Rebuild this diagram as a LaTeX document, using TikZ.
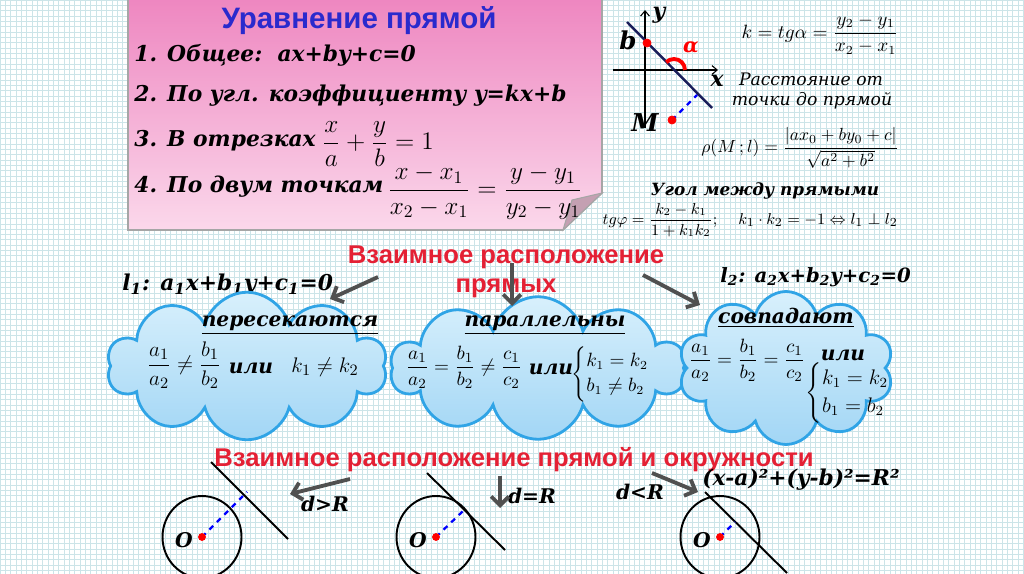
\documentclass[tikz,border=0pt]{standalone}
\usepackage{amsmath,amssymb}
\usepackage{fontspec}
\usepackage{tikz}
\usetikzlibrary{arrows.meta,shapes.symbols}
\newfontfamily\bkfont{DejaVu Serif}
\newfontfamily\hdfont{Liberation Sans}
\newcommand{\sbi}[1]{\textsubscript{#1}}

\definecolor{gridc}{RGB}{204,228,232}
\definecolor{pinktop}{RGB}{238,134,192}
\definecolor{pinkbot}{RGB}{251,216,235}
\definecolor{foldc}{RGB}{196,160,178}
\definecolor{ttlblue}{RGB}{42,42,205}
\definecolor{ttlred}{RGB}{228,32,52}
\definecolor{cldline}{RGB}{48,164,230}
\definecolor{cldtop}{RGB}{216,240,252}
\definecolor{cldbot}{RGB}{162,214,245}
\definecolor{navy}{RGB}{25,30,90}
\definecolor{arrgray}{RGB}{80,80,80}

\tikzset{
  bk/.style={font=\bkfont\bfseries\itshape\fontsize{12.4}{14}\selectfont,inner sep=0pt},
  bkbig/.style={font=\bkfont\bfseries\itshape\fontsize{11.5}{13}\selectfont,inner sep=0pt},
  rm/.style={font=\bkfont\itshape\fontsize{9.8}{12}\selectfont,inner sep=0pt},
  hd/.style={font=\hdfont\bfseries\fontsize{14.6}{16.4}\selectfont,text=ttlred,align=center,inner sep=0pt},
  fm/.style={font=\fontsize{12}{14}\selectfont,inner sep=0pt},
  cloudbox/.style={cloud,cloud puffs=10,cloud ignores aspect,
    draw=cldline,line width=1.6pt,top color=cldtop,bottom color=cldbot,inner sep=0pt},
  bigarr/.style={arrgray,line width=2.2pt,-{Straight Barb[length=5pt,width=10pt]}},
  axarr/.style={line width=0.6pt,-{Straight Barb[length=3pt,width=5pt]}},
  perpline/.style={blue,dashed,line width=1.3pt}
}

\begin{document}
\begin{tikzpicture}[x=0.02cm,y=-0.02cm]
  % background grid
  \useasboundingbox (0,0) rectangle (1024,574);
  \fill[white] (0,0) rectangle (1024,574);
  \draw[gridc,line width=0.35pt,step=0.1066cm] (0,574) grid (1024,0);

  % pink card
  \shade[top color=pinktop,bottom color=pinkbot,draw=gray!70,line width=0.9pt]
    (128,-3) -- (602,-3) -- (602,193) -- (563,230) -- (128,230) -- cycle;
  \filldraw[fill=foldc,draw=gray!70,line width=0.6pt] (602,193) -- (572,200) -- (563,230) -- cycle;
  \node[font=\hdfont\bfseries\fontsize{16.8}{18}\selectfont,text=ttlblue] (eqt) at (359,21) {Уравнение прямой};
  \node[bk,anchor=base west] (eq1) at (134,62) {1. Общее:\ \ ax+by+c=0};
  \node[bk,anchor=base west] (eq2) at (134,102) {2. По угл. коэффициенту y=kx+b};
  \node[bk,anchor=base west] (eq3) at (134,147) {3. В отрезках};
  \node[fm,font=\fontsize{14}{16}\selectfont] (eq3f) at (378,144) {$\dfrac{x}{a}+\dfrac{y}{b}=1$};
  \node[bk,anchor=base west] (eq4) at (134,193) {4. По двум точкам};
  \node[fm,font=\fontsize{13.6}{15}\selectfont] (eq4f) at (485,192) {$\dfrac{x-x_1}{x_2-x_1}=\dfrac{y-y_1}{y_2-y_1}$};

  % small graph
  \draw[axarr] (645,128) -- (645,10);
  \draw[axarr] (613,70) -- (718,70);
  \node[bk] (ylab) at (659,15) {y};
  \node[bk] (xlab) at (717,81) {x};
  \draw[navy,line width=1.4pt] (627,22) -- (712,108);
  \draw[red,line width=2.2pt] (685,70) arc[start angle=0,end angle=135,radius=0.22cm];
  \node[bkbig,text=red] (alab) at (691,47) {α};
  \filldraw[red] (647,43) circle (2.3pt);
  \node[bk,font=\bkfont\bfseries\itshape\fontsize{14}{15}\selectfont] (blab) at (628,40) {b};
  \draw[perpline] (672,120) -- (697,95);
  \filldraw[red] (672,120) circle (2.3pt);
  \node[bk,font=\bkfont\bfseries\itshape\fontsize{14}{15}\selectfont] (mlab) at (645,123) {M};

  \node[fm,font=\fontsize{10.5}{12}\selectfont] (kf) at (820,34) {$k=tg\alpha=\dfrac{y_2-y_1}{x_2-x_1}$};
  \node[rm] (dist1) at (811,79) {Расстояние от};
  \node[rm] (dist2) at (812,101) {точки до прямой};
  \node[fm,font=\fontsize{10}{12}\selectfont] (rhof) at (800,148) {$\rho(M\,;l)=\dfrac{|ax_0+by_0+c|}{\sqrt{a^2+b^2}}$};
  \node[bk,font=\bkfont\bfseries\itshape\fontsize{9.6}{11}\selectfont] (ang) at (765,191) {Угол между прямыми};
  \node[fm,font=\fontsize{9}{11}\selectfont] (tgf) at (660,220) {$tg\varphi=\dfrac{k_2-k_1}{1+k_1k_2};$};
  \node[fm,font=\fontsize{9.3}{11}\selectfont] (perp) at (818,220) {$k_1\cdot k_2=-1\Leftrightarrow l_1\perp l_2$};

  % two lines
  \node[hd] (mid) at (506,272) {Взаимное расположение\\прямых};
  \node[bk,anchor=base west] (l1) at (122,290) {l\sbi{1}: a\sbi{1}x+b\sbi{1}y+c\sbi{1}=0};
  \node[bk,font=\bkfont\bfseries\itshape\fontsize{11.2}{13}\selectfont,anchor=base west] (l2) at (720,282) {l\sbi{2}: a\sbi{2}x+b\sbi{2}y+c\sbi{2}=0};

  \node[cloudbox,minimum width=5.6cm,minimum height=2.95cm] (cl1) at (247,366) {};
  \node[cloudbox,minimum width=5.9cm,minimum height=2.85cm] (cl2) at (538,368) {};
  \node[cloudbox,minimum width=4.3cm,minimum height=3.06cm] (cl3) at (786,368) {};

  \coordinate (s1) at (378,277);
  \coordinate (e1) at (330,299);
  \coordinate (s2) at (512,263);
  \coordinate (e2) at (512,306);
  \coordinate (s3) at (643,275);
  \coordinate (e3) at (700,305);
  \draw[bigarr] (s1) -- (e1);
  \draw[bigarr] (s2) -- (e2);
  \draw[bigarr] (s3) -- (e3);

  \node[bkbig] (cr1) at (290,325) {\underline{пересекаются}};
  \node[fm,font=\fontsize{13}{15}\selectfont] (cr1a) at (184,365) {$\dfrac{a_1}{a_2}\neq\dfrac{b_1}{b_2}$};
  \node[bkbig] (cr1o) at (251,368) {или};
  \node[fm,font=\fontsize{13}{15}\selectfont] (cr1b) at (325,367) {$k_1\neq k_2$};

  \node[bkbig] (cr2) at (545,325) {\underline{параллельны}};
  \node[fm,font=\fontsize{11}{13}\selectfont] (cr2a) at (464,367) {$\dfrac{a_1}{a_2}=\dfrac{b_1}{b_2}\neq\dfrac{c_1}{c_2}$};
  \node[bkbig] (cr2o) at (551,369) {или};
  \node[fm,font=\fontsize{10.5}{12}\selectfont] (cr2b) at (620,374) {$\begin{cases}k_1=k_2\\ b_1\neq b_2\end{cases}$};

  \node[bkbig] (cr3) at (786,318) {\underline{совпадают}};
  \node[fm,font=\fontsize{11}{13}\selectfont] (cr3a) at (747,360) {$\dfrac{a_1}{a_2}=\dfrac{b_1}{b_2}=\dfrac{c_1}{c_2}$};
  \node[bkbig] (cr3o) at (843,355) {или};
  \node[fm,font=\fontsize{11.5}{13}\selectfont] (cr3b) at (858,393) {$\begin{cases}k_1=k_2\\ b_1=b_2\end{cases}$};

  % line and circle
  \node[hd] (circ) at (514,460) {Взаимное расположение прямой и окружности};
  \foreach \cx/\ax/\ay/\bx/\by/\fx/\fy in {202/211/462/288/539/247/492,
      436/427/473/505/550/463/511, 720/705/492/787/573/735/522}{
    \draw[line width=1.1pt] (\cx,537) ellipse [x radius=0.79cm,y radius=0.82cm];
    \draw[line width=1.1pt] (\ax,\ay) -- (\bx,\by);
    \draw[perpline] (\cx,537) -- (\fx,\fy);
    \filldraw[red] (\cx,537) circle (2pt);
    \node[bkbig] (o\cx) at (\cx-18,540) {O};
  }
  \node[bkbig] (dgt) at (325,504) {d>R};
  \node[bkbig] (deq) at (532,496) {d=R};
  \node[bkbig] (dlt) at (640,492) {d<R};
  \node[bk] (circeq) at (801,480) {(x-a)²+(y-b)²=R²};
  \coordinate (s4) at (350,479);
  \coordinate (e4) at (290,494);
  \coordinate (s5) at (500,476);
  \coordinate (e5) at (500,508);
  \coordinate (s6) at (652,473);
  \coordinate (e6) at (698,492);
  \draw[bigarr] (s4) -- (e4);
  \draw[bigarr] (s5) -- (e5);
  \draw[bigarr] (s6) -- (e6);
\end{tikzpicture}
\end{document}
